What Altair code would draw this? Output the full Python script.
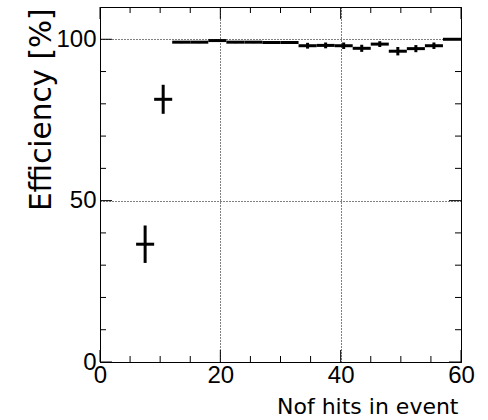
import altair as alt
import pandas as pd

# ---- data ----
bin_lo = [6, 9, 12, 15, 18, 21, 24, 27, 30, 33, 36, 39, 42, 45, 48, 51, 54, 57]
bin_width = 3
eff = [36.5, 81.4, 99.1, 99.1, 99.6, 99.1, 99.1, 99.0, 99.0,
       98.0, 98.1, 98.0, 97.2, 98.5, 96.3, 97.1, 98.0, 100.0]
err = [5.8, 4.5, 0.3, 0.3, 0.3, 0.3, 0.3, 0.3, 0.3,
       0.9, 0.9, 1.0, 1.1, 0.9, 1.3, 1.1, 1.0, 0.0]

x_major = [0, 20, 40, 60]
x_minor = [5, 10, 15, 25, 30, 35, 45, 50, 55]
y_major = [0, 50, 100]
y_minor = [10, 20, 30, 40, 60, 70, 80, 90]

W, H = 361, 355
FONT = "Liberation Sans"
TFONT = "DejaVu Sans"
MAJ, MIN = 12, 6

df = pd.DataFrame({
    "lo": bin_lo,
    "hi": [v + bin_width for v in bin_lo],
    "mid": [v + bin_width / 2 for v in bin_lo],
    "eff": eff,
    "elo": [e - d for e, d in zip(eff, err)],
    "ehi": [e + d for e, d in zip(eff, err)],
})

xs = alt.Scale(domain=[0, 60], nice=False, zero=False)
ys = alt.Scale(domain=[0, 110], nice=False, zero=False)

xaxis = alt.Axis(values=x_major, format="d", grid=True, gridDash=[1, 2], gridColor="black",
                 gridWidth=1, tickSize=0, domain=False, labelFontSize=24, labelFont=FONT,
                 labelColor="black", labelPadding=1, labelFlush=False, labelOverlap=False,
                 title="Nof hits in event", titleFontSize=22, titleFont=TFONT,
                 titleFontWeight="normal", titleColor="black", titleAlign="right",
                 titleAnchor="end", titleX=358, titleY=51, titleBaseline="alphabetic")
yaxis = alt.Axis(values=y_major, format="d", grid=True, gridDash=[1, 2], gridColor="black",
                 gridWidth=1, tickSize=0, domain=False, labelFontSize=24, labelFont=FONT,
                 labelColor="black", labelPadding=4, labelFlush=False, labelOverlap=False,
                 title="Efficiency [%]", titleFontSize=29.5, titleFont=TFONT,
                 titleFontWeight="normal", titleColor="black", titleAngle=-90,
                 titleAlign="right", titleAnchor="end", titleX=-50, titleY=1,
                 titleBaseline="alphabetic")

bins = alt.Chart(df).mark_rule(strokeWidth=3, color="black").encode(
    x=alt.X("lo:Q", scale=xs, axis=xaxis), x2="hi:Q",
    y=alt.Y("eff:Q", scale=ys, axis=yaxis))
errs = alt.Chart(df).mark_rule(strokeWidth=3, color="black").encode(
    x=alt.X("mid:Q", scale=xs), y=alt.Y("elo:Q", scale=ys), y2="ehi:Q")

def xticks(vals, length):
    d = pd.DataFrame({"v": vals})
    b = alt.Chart(d).mark_rule(color="black", strokeWidth=1).encode(
        x=alt.X("v:Q", scale=xs), y=alt.value(H), y2=alt.value(H - length))
    t = alt.Chart(d).mark_rule(color="black", strokeWidth=1).encode(
        x=alt.X("v:Q", scale=xs), y=alt.value(0), y2=alt.value(length))
    return [b, t]

def yticks(vals, length):
    d = pd.DataFrame({"v": vals})
    l = alt.Chart(d).mark_rule(color="black", strokeWidth=1).encode(
        y=alt.Y("v:Q", scale=ys), x=alt.value(0), x2=alt.value(length))
    r = alt.Chart(d).mark_rule(color="black", strokeWidth=1).encode(
        y=alt.Y("v:Q", scale=ys), x=alt.value(W), x2=alt.value(W - length))
    return [l, r]

layers = [bins, errs] + xticks(x_major, MAJ) + xticks(x_minor, MIN) \
    + yticks(y_major, MAJ) + yticks(y_minor, MIN)

chart = alt.layer(*layers).properties(
    width=W, height=H,
    autosize=alt.AutoSizeParams(type="none"),
    padding={"left": 100, "top": 7, "right": 27, "bottom": 58},
    background="white",
).configure_view(stroke="black", strokeWidth=1)

chart.save("out.html", embed_options={"renderer": "svg", "actions": False})
